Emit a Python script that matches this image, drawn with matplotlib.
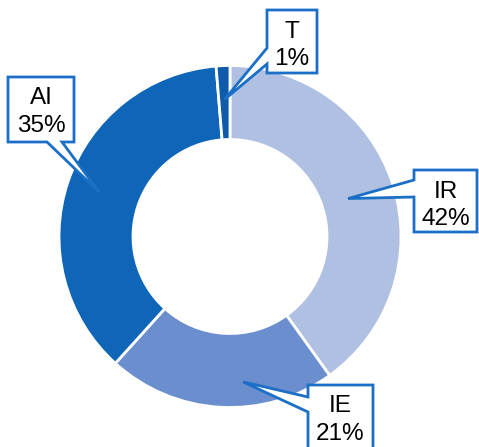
import numpy as np
import matplotlib
matplotlib.use("Agg")
import matplotlib.pyplot as plt
from matplotlib.patches import Polygon

# === DATA ===
labels = ["IR", "IE", "AI", "T"]
pct_text = ["42%", "21%", "35%", "1%"]
shares = [40.1, 21.6, 37.0, 1.3]          # slice sizes as drawn
colors = ["#B0C0E2", "#6A8ECE", "#0F66B8", "#0D5BAA"]

# === LAYOUT (pixel coords, y measured from top) ===
W, H = 479, 447
center = (230, H - 236.5)
r_out, r_in = 171, 97
border = "#1B6FC6"

# box: (x0, top, x1, bottom), edge holding the pointer, pointer base span, tip (angle shift, radius)
callouts = {
    "IR": dict(box=(414, 170, 477, 232), edge="left", base=(180, 197), tip=(0, 124)),
    "IE": dict(box=(308, 385, 373, 449), edge="left", base=(397, 412), tip=(8.4, 146)),
    "AI": dict(box=(8, 77, 74, 142), edge="bottom", base=(47, 62), tip=(0, 138)),
    "T": dict(box=(267, 10, 317, 73), edge="left", base=(48, 64), tip=(0, 137)),
}

plt.rcParams["font.family"] = ["Liberation Sans", "DejaVu Sans"]

fig = plt.figure(figsize=(W / 100, H / 100), dpi=100)
ax = fig.add_axes([0, 0, 1, 1])

wedges, _ = ax.pie(shares, colors=colors, startangle=90, counterclock=False,
                   radius=r_out, center=center,
                   wedgeprops=dict(width=r_out - r_in, edgecolor="white", linewidth=2))

ax.set_xlim(0, W)
ax.set_ylim(0, H)
ax.set_aspect("equal")
ax.axis("off")


def flip(p):
    return (p[0], H - p[1])


for lab, pct, wedge in zip(labels, pct_text, wedges):
    c = callouts[lab]
    x0, y0, x1, y1 = c["box"]
    shift, rt = c["tip"]
    ang = np.radians((wedge.theta1 + wedge.theta2) / 2 + shift)
    tip = (center[0] + rt * np.cos(ang), H - (center[1] + rt * np.sin(ang)))
    a, b = c["base"]
    if c["edge"] == "bottom":
        pts = [(x0, y0), (x1, y0), (x1, y1), (b, y1), tip, (a, y1), (x0, y1)]
    else:
        pts = [(x0, y0), (x1, y0), (x1, y1), (x0, y1), (x0, b), tip, (x0, a)]
    ax.add_patch(Polygon([flip(p) for p in pts], closed=True, facecolor="white",
                         edgecolor=border, linewidth=2.0, joinstyle="miter", zorder=5))
    xc = (x0 + x1) / 2
    ax.text(xc, H - (y0 + 27.5), lab, ha="center", va="baseline", fontsize=17.5, zorder=6)
    ax.text(xc, H - (y0 + 55), pct, ha="center", va="baseline", fontsize=17.5, zorder=6)

fig.savefig("out.png", dpi=100)
